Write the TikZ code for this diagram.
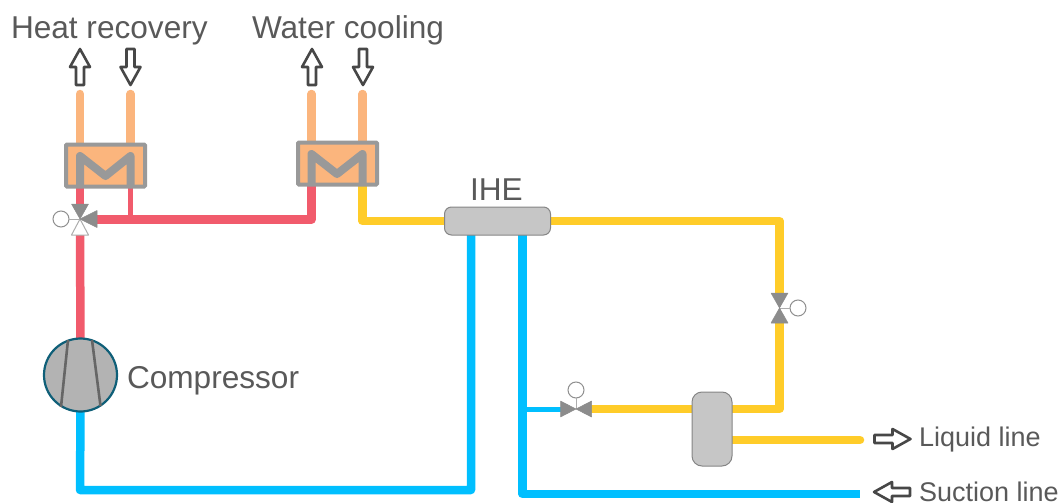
\documentclass[tikz,border=0pt]{standalone}
\usepackage{fontspec}
\setmainfont{Liberation Sans}
\usetikzlibrary{backgrounds}
\definecolor{txt}{HTML}{595959}
\definecolor{hotpipe}{HTML}{F15B6C}
\definecolor{liqpipe}{HTML}{FFCC29}
\definecolor{cold}{HTML}{00BFFF}
\definecolor{water}{HTML}{FBB57D}
\definecolor{hxgray}{HTML}{999999}
\definecolor{vessel}{HTML}{C6C6C6}
\definecolor{valvegray}{HTML}{8C8C8C}
\definecolor{compring}{HTML}{0F5F78}
\definecolor{compfill}{HTML}{B3B3B3}
\tikzset{
  every node/.style={inner sep=0pt,outer sep=0pt},
  pipe/.style={line width=8.5pt,line join=round},
  thinpipe/.style={line width=5pt},
  hxbox/.style={draw=hxgray,line width=4pt,fill=water,rounded corners=1pt,minimum width=79pt,minimum height=42pt},
  hxcoil/.style={draw=hxgray,line width=8pt,line join=round,line cap=butt},
  tank/.style={draw=hxgray!120,line width=1pt,fill=vessel},
  label34/.style={anchor=base west,text=txt,font=\fontsize{31.6}{31.6}\selectfont},
  label27/.style={anchor=base west,text=txt,font=\fontsize{27}{27}\selectfont},
  actuator/.style={circle,draw=hxgray!110,line width=1pt,fill=white,minimum size=16pt},
  stemline/.style={draw=hxgray!80,line width=1pt},
  wedgefull/.style={fill=valvegray,draw=valvegray,line width=.5pt,line join=round},
  wedgeopen/.style={fill=white,draw=hxgray!80,line width=1pt,line join=round},
  hollow/.style={draw=black!72,line width=2.6pt,fill=white,line join=round},
  blade/.style={draw=black!60,line width=2.6pt},
  pics/blockarrow/.style={code={
    \path[hollow] (-18,0) -- (0,-10) -- (0,-4) -- (18,-4) -- (18,4) -- (0,4) -- (0,10) -- cycle;
  }}
}
\begin{document}
\begin{tikzpicture}[x=1pt,y=-1pt]
\useasboundingbox (0,0) rectangle (1063,503);

% equipment
\node[hxbox] (hxa) at (105.5,165.5) {};
\node[hxbox] (hxb) at (337.5,163.5) {};
\node[tank,rounded corners=7pt,minimum width=106pt,minimum height=28pt] (ihe) at (497.5,221) {};
\node[tank,rounded corners=10pt,minimum width=40pt,minimum height=74pt] (rec) at (712,429) {};
\node[circle,draw=compring,line width=2.2pt,fill=compfill,minimum size=73pt] (comp) at (80.5,375) {};

% valve centres
\coordinate (vthree) at (80,219);
\coordinate (vtwo) at (779.5,308);
\coordinate (vone) at (576,409);
\node[actuator] (acta) at (61,219) {};
\node[actuator] (actb) at (798,308) {};
\node[actuator] (actc) at (576,390) {};

% ports
\coordinate (wa1) at (80,94);   \coordinate (wa2) at (130.5,94);
\coordinate (wb1) at (311.5,94);\coordinate (wb2) at (362.5,94);
\coordinate (liqend) at (860,440);
\coordinate (sucend) at (860,494);
\coordinate (vrise) at (780,409);
\coordinate (ihecoldl) at (471,235);
\coordinate (ihecoldr) at (522.5,235);
\coordinate (lowleft) at (80,490);
\coordinate (vthreeT) at (80,205);
\coordinate (vthreeB) at (80,235);
\coordinate (vthreeR) at (97,219.5);
\coordinate (vtwoT) at (779.5,294);
\coordinate (vtwoB) at (779.5,322);
\coordinate (voneL) at (561,409);
\coordinate (voneR) at (591,409);

\begin{scope}[on background layer]
  % water
  \draw[pipe,water,line cap=round] (wa1) -- (wa1 |- hxa.north);
  \draw[pipe,water,line cap=round] (wa2) -- (wa2 |- hxa.north);
  \draw[pipe,water,line cap=round] (wb1) -- (wb1 |- hxb.north);
  \draw[pipe,water,line cap=round] (wb2) -- (wb2 |- hxb.north);
  % hot gas
  \draw[pipe,hotpipe] (comp.north) -- (vthreeB);
  \draw[pipe,hotpipe] (vthreeT) -- (vthreeT |- hxa.south);
  \draw[pipe,hotpipe] (vthreeR) -- (wb1 |- vthreeR) -- (wb1 |- hxb.south);
  \draw[thinpipe,hotpipe] (wa2 |- hxa.south) -- (wa2 |- vthreeR);
  % liquid
  \draw[pipe,liqpipe] (wb2 |- hxb.south) -- (wb2 |- ihe.west) -- (ihe.west);
  \draw[pipe,liqpipe] (ihe.east) -- (vtwoT |- ihe.east) -- (vtwoT);
  \draw[pipe,liqpipe] (vtwoB) -- (vtwoB |- vrise) -- (rec.east |- vrise);
  \draw[pipe,liqpipe] (rec.west |- vrise) -- (voneR);
  \draw[pipe,liqpipe,line cap=round] (rec.east |- liqend) -- (liqend);
  % suction
  \draw[pipe,cold] (ihecoldl) -- (lowleft -| ihecoldl) -- (lowleft) -- (comp.south);
  \draw[pipe,cold] (ihecoldr) -- (sucend -| ihecoldr) -- (sucend);
  \draw[thinpipe,cold] (ihecoldr |- voneL) -- (voneL);
\end{scope}

% coils
\draw[hxcoil] (80,187) -- (80,156) -- (105.5,176) -- (130.5,156) -- (130.5,187);
\draw[hxcoil] (311.5,185) -- (311.5,154) -- (337,174) -- (362.5,154) -- (362.5,185);

% compressor blades
\draw[blade] (68,340) -- (61,407);
\draw[blade] (92,340) -- (100.5,406);

% three-way valve
\draw[stemline] (acta.east) -- (vthree);
\path[wedgeopen] (vthree) -- ++(-8.5,16) -- ++(17,0) -- cycle;
\path[wedgefull] (vthree) -- ++(-8.5,-15) -- ++(17,0) -- cycle;
\path[wedgefull] (vthree) -- ++(17,-8.5) -- ++(0,17) -- cycle;

% liquid valve
\draw[stemline] (actb.west) -- (vtwo);
\path[wedgefull] (vtwo) -- ++(-8.5,-15) -- ++(17,0) -- cycle;
\path[wedgefull] (vtwo) -- ++(-8.5,15) -- ++(17,0) -- cycle;

% expansion valve
\draw[stemline] (actc.south) -- (vone);
\path[wedgefull] (vone) -- ++(-15.5,-8) -- ++(0,16) -- cycle;
\path[wedgefull] (vone) -- ++(15.5,-8) -- ++(0,16) -- cycle;

% flow arrows
\pic[rotate=-90] at (80,67) {blockarrow};
\pic[rotate=90] at (130.5,67) {blockarrow};
\pic[rotate=-90] at (312,67) {blockarrow};
\pic[rotate=90] at (363,67) {blockarrow};
\pic[rotate=180] at (892.5,439) {blockarrow};
\pic at (892,492) {blockarrow};

% labels
\node[label34] (lhr) at (11,39) {Heat recovery};
\node[label34] (lwc) at (252,39) {Water cooling};
\node[label34] (lihe) at (470,200.5) {IHE};
\node[label34] (lcomp) at (127,388.5) {Compressor};
\node[label27] (lliq) at (919,446) {Liquid line};
\node[label27] (lsuc) at (919,501) {Suction line};
\end{tikzpicture}
\end{document}
